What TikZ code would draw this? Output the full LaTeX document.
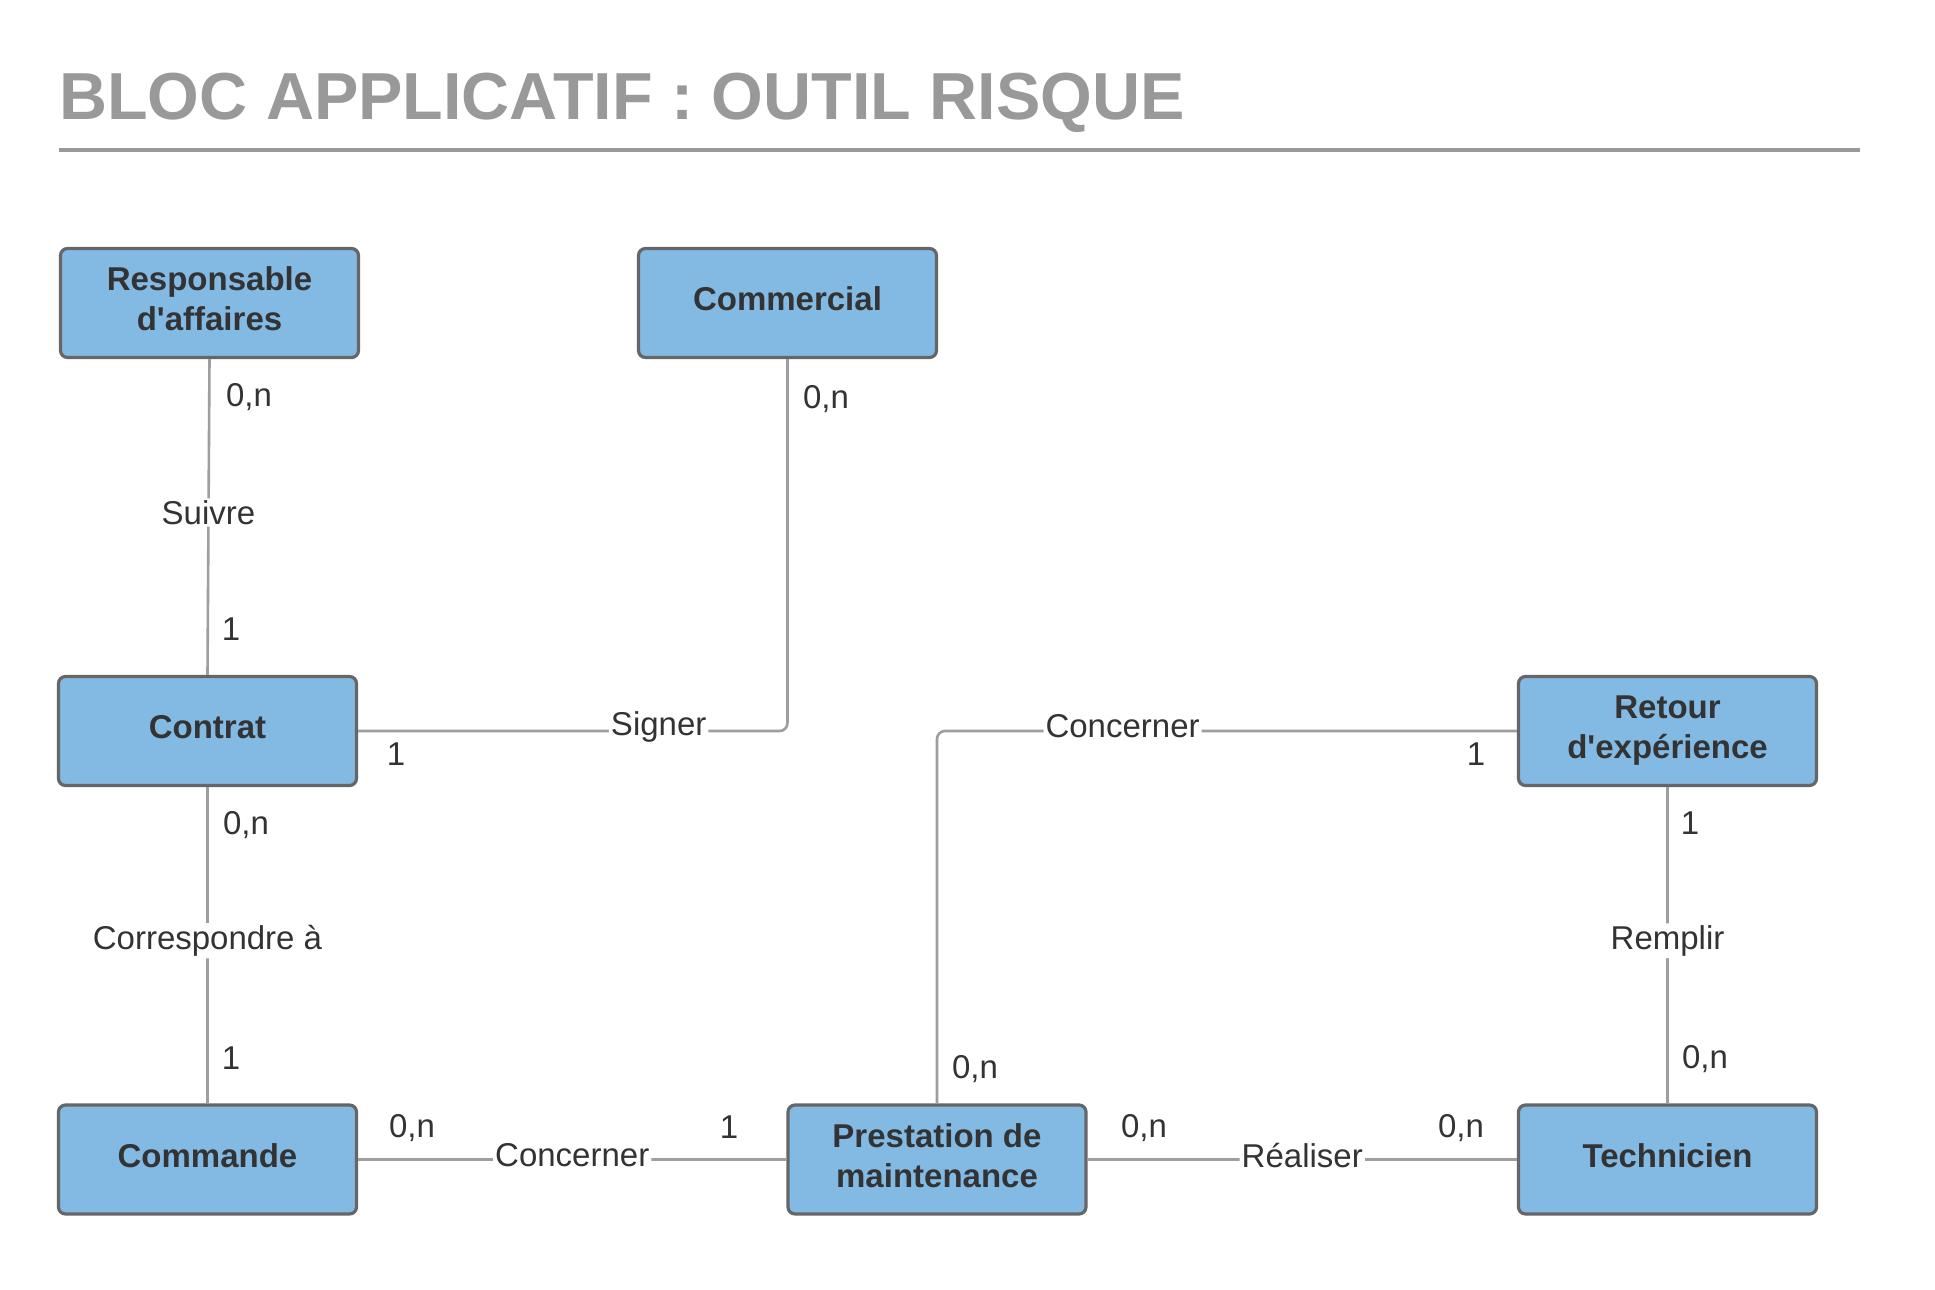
\documentclass[tikz,border=0pt]{standalone}
\usepackage{fontspec}
\setmainfont{Liberation Sans}
\definecolor{boxfill}{HTML}{83BAE4}
\definecolor{boxline}{HTML}{666666}
\definecolor{conn}{HTML}{9E9E9E}
\definecolor{txt}{HTML}{333333}
\definecolor{titlegray}{HTML}{999999}
\begin{document}
\begin{tikzpicture}[x=1pt,y=-1pt,
  entity/.style={draw=boxline, line width=3.2pt, fill=boxfill, rounded corners=7pt,
    minimum width=298pt, minimum height=109pt, align=center, text=txt,
    font=\fontsize{33}{40}\selectfont\bfseries, inner sep=0pt, text depth=8pt},
  conn/.style={draw=conn, line width=2.6pt, rounded corners=8pt},
  rel/.style={fill=white, text=txt, font=\fontsize{33}{40}\selectfont, inner sep=2pt, yshift=4.5pt},
  card/.style={text=txt, font=\fontsize{33}{40}\selectfont, inner sep=0pt}]
\path[use as bounding box, fill=white] (0,0) rectangle (1935,1290);
% title
\node[anchor=base west, inner sep=0pt, text=titlegray, font=\fontsize{66.5}{70}\selectfont\bfseries] (title) at (59,119) {BLOC APPLICATIF : OUTIL RISQUE};
\coordinate (ruleA) at (59,150);
\coordinate (ruleB) at (1860,150);
\draw[titlegray, line width=3.6pt] (ruleA) -- (ruleB);
% entities
\node[entity] (resp) at (209.5,303) {Responsable\\d\textquotesingle affaires};
\node[entity] (comm) at (787.5,303) {Commercial};
\node[entity] (contrat) at (207.5,731) {Contrat};
\node[entity] (retour) at (1667.5,731) {Retour\\d\textquotesingle expérience};
\node[entity] (commande) at (207.5,1159.5) {Commande};
\node[entity] (prest) at (937,1159.5) {Prestation de\\maintenance};
\node[entity] (tech) at (1667.5,1159.5) {Technicien};
% connectors
\draw[conn] (resp.south) -- node[rel] (suivre) {Suivre} (contrat.north);
\draw[conn] (contrat.east) -| node[rel, pos=0.35] (signer) {Signer} (comm.south);
\draw[conn] (contrat.south) -- node[rel] (corr) {Correspondre à} (commande.north);
\draw[conn] (commande.east) -- node[rel] (conc1) {Concerner} (prest.west);
\draw[conn] (prest.east) -- node[rel] (real) {Réaliser} (tech.west);
\draw[conn] (retour.west) -| node[rel, pos=0.34] (conc2) {Concerner} (prest.north);
\draw[conn] (retour.south) -- node[rel] (rempl) {Remplir} (tech.north);
% cardinalities
\node[card] (c1) at (249,397) {0,n};
\node[card] (c2) at (231,629) {1};
\node[card] (c3) at (826,399) {0,n};
\node[card] (c4) at (396,754) {1};
\node[card] (c5) at (246,825) {0,n};
\node[card] (c6) at (231,1058) {1};
\node[card] (c7) at (412,1128) {0,n};
\node[card] (c8) at (729,1127) {1};
\node[card] (c9) at (1144,1128) {0,n};
\node[card] (c10) at (1461,1128) {0,n};
\node[card] (c11) at (975,1069) {0,n};
\node[card] (c12) at (1476,754) {1};
\node[card] (c13) at (1690,823) {1};
\node[card] (c14) at (1705,1059) {0,n};
\end{tikzpicture}
\end{document}
